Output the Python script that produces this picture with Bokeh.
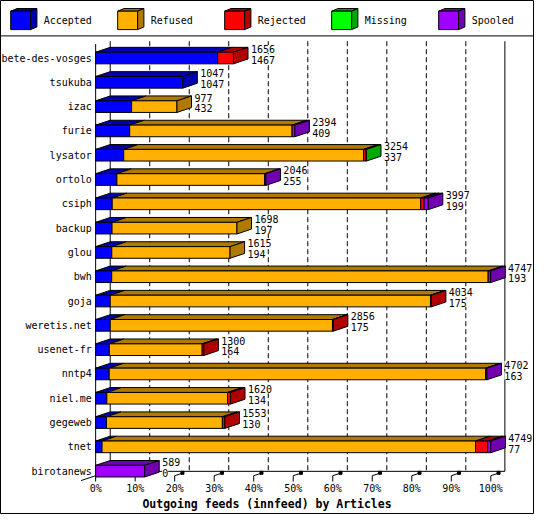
from bokeh.plotting import figure
from bokeh.models import Range1d
from bokeh.core.properties import value
from bokeh.embed import file_html
from bokeh.resources import INLINE

# ---------------- data ----------------
feeds = ["bete-des-vosges", "tsukuba", "izac", "furie", "lysator", "ortolo",
         "csiph", "backup", "glou", "bwh", "goja", "weretis.net", "usenet-fr",
         "nntp4", "niel.me", "gegeweb", "tnet", "birotanews"]
offered = [1656, 1047, 977, 2394, 3254, 2046, 3997, 1698, 1615, 4747, 4034,
           2856, 1300, 4702, 1620, 1553, 4749, 589]
accepted = [1467, 1047, 432, 409, 337, 255, 199, 197, 194, 193, 175, 175,
            164, 163, 134, 130, 77, 0]
refused = [0, 0, 545, 1952, 2883, 1776, 3708, 1501, 1421, 4524, 3849, 2671,
           1116, 4524, 1451, 1393, 4489, 0]
rejected = [189, 0, 0, 0, 28, 0, 40, 0, 0, 0, 10, 10, 20, 0, 35, 30, 145, 0]
missing = [0, 0, 0, 0, 6, 0, 0, 0, 0, 0, 0, 0, 0, 0, 0, 0, 0, 0]
spooled = [0, 0, 0, 33, 0, 15, 50, 0, 0, 30, 0, 0, 0, 15, 0, 0, 38, 589]

series_names = ["Accepted", "Refused", "Rejected", "Missing", "Spooled"]
front_colors = ["#0000FF", "#FFB000", "#FF0000", "#00FF00", "#A000FF"]
shade_colors = ["#0000B0", "#B07A00", "#B00000", "#00A800", "#7000B0"]

tick_values = [0, 10, 20, 30, 40, 50, 60, 70, 80, 90, 100]
tick_labels = ["0%", "10%", "20%", "30%", "40%", "50%", "60%", "70%", "80%", "90%", "100%"]
title_text = "Outgoing feeds (innfeed) by Articles"

# ---------------- geometry (reference pixel layout -> data units) ----------------
PX_PER_PCT = 4.07
X_ORIGIN = 98.0
ROW_PX = 25.06
Y_ORIGIN = 59.3


def X(px):
    return (px - X_ORIGIN) / PX_PER_PCT


def Y(py):
    return (py - Y_ORIGIN) / ROW_PX


DX = 15 / PX_PER_PCT
DY = -5 / ROW_PX
HALF = 6 / ROW_PX

W, H = 534, 514
MONO = "DejaVu Sans Mono"

p = figure(width=W, height=H, output_backend="svg", toolbar_location=None,
           x_range=Range1d(X(0), X(550)), y_range=Range1d(Y(530), Y(0)),
           x_axis_type=None, y_axis_type=None, min_border=0)
p.background_fill_color = "white"
p.border_fill_color = "white"
p.outline_line_color = "black"
p.outline_line_width = 1

# ---------------- walls / grid ----------------
# dashed back grid lines
gx = [X(X_ORIGIN + PX_PER_PCT * t + 15) for t in tick_values[1:-1]]
p.segment(x0=gx, y0=[Y(42)] * len(gx), x1=gx, y1=[Y(485)] * len(gx),
          line_color="black", line_width=1, line_dash="5 3")
# solid walls
p.segment(x0=[X(98), X(113), X(519.5), X(113), X(83)],
          y0=[Y(45), Y(42), Y(42), Y(485.5), Y(495)],
          x1=[X(98), X(113), X(519.5), X(519.5), X(113)],
          y1=[Y(491), Y(485.5), Y(485.5), Y(485.5), Y(485)],
          line_color="black", line_width=1)

# floor ticks
tx = [float(t) for t in tick_values]
p.segment(x0=tx, y0=[Y(490)] * len(tx), x1=tx, y1=[Y(496)] * len(tx),
          line_color="black", line_width=1)
p.segment(x0=tx[1:], y0=[Y(490)] * (len(tx) - 1),
          x1=[t + 7 / PX_PER_PCT for t in tx[1:]], y1=[Y(487.7)] * (len(tx) - 1),
          line_color="black", line_width=1)
p.scatter(x=[t + 8 / PX_PER_PCT for t in tx[1:]], y=[Y(487)] * (len(tx) - 1),
          marker="square", size=3, color="black")

# ---------------- bars ----------------
vmax = max(offered)
xs, ys, fc = [], [], []
series = [accepted, refused, rejected, missing, spooled]
end_pct = []
for i in range(len(feeds)):
    yt, yb = i - HALF, i + HALF
    cum = 0.0
    last = None
    for k, s in enumerate(series):
        v = s[i]
        if v <= 0:
            continue
        x0 = cum / vmax * 100
        cum += v
        x1 = cum / vmax * 100
        # top face
        xs.append([x0, x1, x1 + DX, x0 + DX])
        ys.append([yt, yt, yt + DY, yt + DY])
        fc.append(shade_colors[k])
        # front face
        xs.append([x0, x1, x1, x0])
        ys.append([yt, yt, yb, yb])
        fc.append(front_colors[k])
        last = k
    xe = cum / vmax * 100
    end_pct.append(xe)
    # side face of last segment
    xs.append([xe, xe + DX, xe + DX, xe])
    ys.append([yt, yt + DY, yb + DY, yb])
    fc.append(shade_colors[last])

p.patches(xs=xs, ys=ys, fill_color=fc, line_color="black", line_width=1)

# value labels (offered / accepted)
lx = [e + 18 / PX_PER_PCT for e in end_pct]
p.text(x=lx, y=[i - 9.4 / ROW_PX for i in range(len(feeds))],
       text=[str(v) for v in offered], text_font=value(MONO),
       text_font_size="10px", text_baseline="middle", text_align="left",
       text_color="black", background_fill_color="white")
p.text(x=lx, y=[i + 1.8 / ROW_PX for i in range(len(feeds))],
       text=[str(v) for v in accepted], text_font=value(MONO),
       text_font_size="10px", text_baseline="middle", text_align="left",
       text_color="black", background_fill_color="white")

# category labels
p.text(x=[X(94)] * len(feeds), y=list(range(len(feeds))), text=feeds,
       text_font=value(MONO), text_font_size="10px", text_baseline="middle",
       text_align="right", text_color="black")

# x tick labels
p.text(x=tx, y=[Y(503)] * len(tx), text=tick_labels, text_font=value(MONO),
       text_font_size="10px", text_baseline="middle", text_align="center",
       text_color="black")

# title
p.text(x=[X(274.5)], y=[Y(519)], text=[title_text], text_font=value(MONO),
       text_font_size="11.5px", text_font_style="bold", text_baseline="middle",
       text_align="center", text_color="black")

# ---------------- legend ----------------
p.segment(x0=[X(0)], y0=[Y(36.5)], x1=[X(550)], y1=[Y(36.5)],
          line_color="black", line_width=1)
lxs, lys, lfc = [], [], []
lab_x = []
for k in range(len(series_names)):
    a = 10.5 + 110.2 * k
    b = a + 20.5
    lxs += [[X(a), X(b), X(b + 6.5), X(a + 6.5)],
            [X(b), X(b + 6.5), X(b + 6.5), X(b)],
            [X(a), X(b), X(b), X(a)]]
    lys += [[Y(11), Y(11), Y(8.3), Y(8.3)],
            [Y(11), Y(8.3), Y(27.3), Y(30)],
            [Y(11), Y(11), Y(30), Y(30)]]
    lfc += [shade_colors[k], shade_colors[k], front_colors[k]]
    lab_x.append(X(a + 34))
p.patches(xs=lxs, ys=lys, fill_color=lfc, line_color="black", line_width=1)
p.text(x=lab_x, y=[Y(21)] * len(lab_x), text=series_names, text_font=value(MONO),
       text_font_size="10px", text_baseline="middle", text_align="left",
       text_color="black")

open("out.html", "w").write(file_html(p, INLINE))
